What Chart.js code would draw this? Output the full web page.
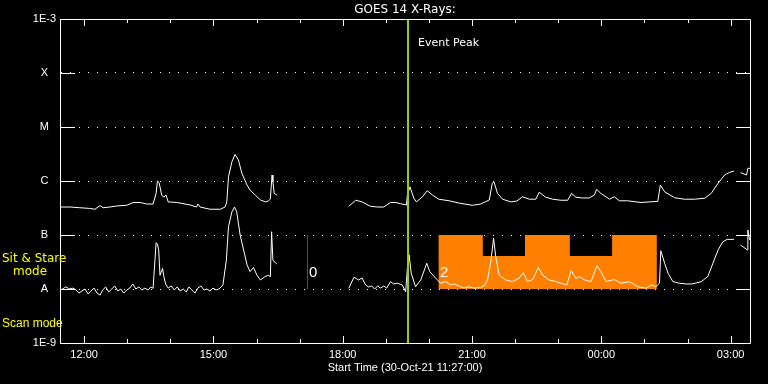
<!DOCTYPE html>
<html><head><meta charset="utf-8">
<script src="https://cdn.jsdelivr.net/npm/chart.js@4/dist/chart.umd.min.js"></script>
<style>html,body{margin:0;padding:0;background:#000;overflow:hidden}#wrap{width:768px;height:384px}</style>
</head><body><div id="wrap"><canvas id="c" width="768" height="384"></canvas></div>
<script>
const chartTitle = 'GOES 14 X-Rays:';
const xAxisTitle = 'Start Time (30-Oct-21 11:27:00)';
const xStart = 11.44, xEnd = 27.45;
const xMajorHours = [12, 15, 18, 21, 24, 27];
const xMajorLabels = ['12:00', '15:00', '18:00', '21:00', '00:00', '03:00'];
const xMinorHours = [12, 13, 14, 15, 16, 17, 18, 19, 20, 21, 22, 23, 24, 25, 26, 27];
const yTickValues = [1e-9, 1e-8, 1e-7, 1e-6, 1e-5, 1e-4, 1e-3];
const yTickLabels = ['1E-9', 'A', 'B', 'C', 'M', 'X', '1E-3'];

const longTimes = [11.44,11.67,11.90,12.13,12.25,12.37,12.44,12.60,12.75,12.99,13.14,13.30,13.45,13.60,13.67,13.70,13.74,13.80,13.85,13.90,13.95,14.15,14.46,14.61,14.64,14.69,14.92,15.16,15.27,15.31,15.35,15.43,15.50,15.58,15.66,15.78,15.85,15.97,16.09,16.21,16.28,16.32,16.36,16.38,16.41,16.47,17.0,
 18.14,18.30,18.45,18.64,18.80,18.95,19.11,19.23,19.34,19.48,19.50,19.56,19.65,19.71,19.85,19.96,20.08,20.23,20.47,20.70,21.01,21.20,21.40,21.47,21.51,21.59,21.71,21.90,22.04,22.17,22.33,22.48,22.56,22.71,22.87,23.06,23.22,23.31,23.41,23.57,23.72,23.84,23.89,23.99,24.19,24.30,24.42,24.61,24.92,25.31,25.37,25.47,25.70,25.93,26.16,26.40,26.55,26.71,26.86,26.98,27.08,27.15,27.23,27.37,27.40,27.48];
const longFlux = [3.3e-7,3.3e-7,3.2e-7,3.1e-7,3.0e-7,3.5e-7,3.2e-7,3.3e-7,3.45e-7,3.55e-7,4.0e-7,4.0e-7,3.75e-7,3.75e-7,5.9e-7,1.0e-6,9.3e-7,5.5e-7,5.0e-7,5.5e-7,4.1e-7,4.0e-7,3.6e-7,3.3e-7,3.75e-7,3.3e-7,3.0e-7,3.0e-7,3.3e-7,4.1e-7,1.2e-6,2.28e-6,3.1e-6,2.45e-6,1.39e-6,8.4e-7,6.8e-7,5.5e-7,4.45e-7,4.1e-7,4.3e-7,4.6e-7,1.29e-6,9.7e-7,5.9e-7,5.5e-7,null,
 3.4e-7,4.4e-7,4.1e-7,3.4e-7,3.3e-7,3.3e-7,4.0e-7,4.0e-7,3.8e-7,3.6e-7,5.5e-7,7.8e-7,4.8e-7,4.1e-7,5.1e-7,6.6e-7,5.5e-7,4.6e-7,4.3e-7,3.9e-7,3.55e-7,3.75e-7,4.45e-7,9.1e-7,9.7e-7,5.9e-7,4.6e-7,4.1e-7,4.25e-7,5.1e-7,4.6e-7,4.6e-7,6.2e-7,5.0e-7,4.6e-7,4.4e-7,4.4e-7,5.9e-7,5.0e-7,4.85e-7,4.85e-7,5.5e-7,7.0e-7,5.9e-7,4.6e-7,5.1e-7,4.3e-7,4.3e-7,4.0e-7,4.2e-7,8.4e-7,6.3e-7,4.9e-7,4.6e-7,4.6e-7,4.8e-7,5.9e-7,9.1e-7,1.29e-6,1.45e-6,1.53e-6,null,1.43e-6,1.29e-6,1.72e-6,1.72e-6];

const shortTimes = [11.44,11.50,11.57,11.67,11.74,11.81,11.88,11.95,12.02,12.09,12.16,12.23,12.30,12.37,12.43,12.50,12.57,12.64,12.71,12.78,12.85,12.92,12.99,13.06,13.13,13.20,13.27,13.34,13.41,13.48,13.55,13.60,13.67,13.70,13.73,13.76,13.82,13.85,13.89,13.95,14.02,14.09,14.16,14.23,14.30,14.37,14.43,14.50,14.57,14.64,14.71,14.78,14.85,14.92,14.99,15.06,15.13,15.22,15.30,15.35,15.43,15.49,15.54,15.62,15.70,15.78,15.85,15.93,16.01,16.09,16.20,16.28,16.32,16.35,16.38,16.47,17.0,
 18.14,18.26,18.37,18.45,18.53,18.60,18.67,18.74,18.81,18.88,18.95,19.02,19.11,19.18,19.27,19.38,19.46,19.50,19.54,19.59,19.69,19.81,19.95,20.02,20.16,20.27,20.39,20.50,20.59,20.70,20.81,20.93,21.04,21.20,21.30,21.36,21.44,21.50,21.55,21.63,21.78,21.94,22.09,22.19,22.29,22.41,22.54,22.64,22.79,22.95,23.06,23.20,23.30,23.41,23.49,23.61,23.76,23.90,23.99,24.11,24.30,24.46,24.65,24.85,25.04,25.16,25.27,25.35,25.38,25.47,25.55,25.66,25.81,25.97,26.09,26.20,26.32,26.47,26.59,26.71,26.82,26.92,27.08,27.15,27.23,27.39,27.40,27.44];
const shortFlux = [9.6e-9,1.0e-8,1.09e-8,1.0e-8,1.04e-8,9.6e-9,8.4e-9,9.2e-9,1.0e-8,8.1e-9,9.2e-9,1.04e-8,8.4e-9,7.7e-9,9.6e-9,1.09e-8,8.8e-9,1.0e-8,1.14e-8,9.2e-9,1.0e-8,8.4e-9,9.6e-9,1.04e-8,1.24e-8,1.0e-8,1.09e-8,9.6e-9,1.04e-8,9.6e-9,1.09e-8,1.03e-8,7.2e-8,6.8e-8,5.3e-8,1.8e-8,2.4e-8,1.7e-8,1.24e-8,1.04e-8,1.14e-8,9.6e-9,1.09e-8,9.2e-9,1.0e-8,8.8e-9,1.09e-8,9.6e-9,8.4e-9,1.04e-8,1.14e-8,9.6e-9,1.0e-8,9.2e-9,1.04e-8,9.6e-9,1.0e-8,1.19e-8,3.4e-8,1.43e-7,2.7e-7,3.3e-7,2.7e-7,1.0e-7,5.3e-8,2.8e-8,2.1e-8,2.5e-8,1.8e-8,1.47e-8,1.7e-8,1.8e-8,1.67e-8,1.15e-7,3.4e-8,2.9e-8,null,
 1.03e-8,1.65e-8,1.47e-8,1.6e-8,1.19e-8,1.09e-8,1.14e-8,1.0e-8,1.14e-8,1.04e-8,1.14e-8,1.04e-8,1.37e-8,1.24e-8,1.28e-8,1.19e-8,8.9e-9,2.4e-8,4.3e-8,1.95e-8,1.1e-8,1.47e-8,3.0e-8,2.1e-8,1.58e-8,1.28e-8,1.37e-8,1.19e-8,1.24e-8,1.14e-8,1.04e-8,1.1e-8,1.04e-8,1.06e-8,1.19e-8,1.47e-8,3.4e-8,8.7e-8,4.0e-8,1.8e-8,1.47e-8,1.37e-8,1.58e-8,2.0e-8,1.37e-8,1.5e-8,2.5e-8,1.8e-8,1.47e-8,1.37e-8,1.28e-8,1.19e-8,2.2e-8,1.58e-8,1.7e-8,1.47e-8,1.37e-8,2.7e-8,2.1e-8,1.37e-8,1.5e-8,1.28e-8,1.37e-8,1.1e-8,1.03e-8,1.19e-8,1.1e-8,1.29e-8,5.1e-8,3.0e-8,1.95e-8,1.37e-8,1.28e-8,1.24e-8,1.24e-8,1.29e-8,1.37e-8,1.7e-8,3.0e-8,5.3e-8,7.5e-8,8.3e-8,8.3e-8,null,6.5e-8,5.3e-8,1.24e-7,8.1e-8];

const modeTimes = [20.22, 21.25, 22.23, 23.27, 24.25, 25.29];
const modeLevels = [1e-7, 4.1e-8, 1e-7, 4.1e-8, 1e-7, 1e-7];
const modeBase = 1e-8;
const eventPeakTime = 19.515;
const markerTime = 17.183;
const markerRange = [1e-8, 1e-7];
const regionTexts = ['0', '2'];
const regionTimes = [17.22, 20.26];
const regionLevel = 2.0e-8;

const tickFont = {family: 'Liberation Sans', size: 11};
const pts = (ts, vs) => ts.map((t, i) => ({x: t, y: vs[i]}));

const overlay = {
  id: 'overlay',
  beforeDraw(chart) {
    const ctx = chart.ctx;
    ctx.save(); ctx.fillStyle = '#000'; ctx.fillRect(0, 0, chart.width, chart.height); ctx.restore();
  },
  afterDraw(chart) {
    const {ctx, chartArea: a, scales: {x, y}} = chart;
    ctx.save();
    ctx.strokeStyle = '#fff'; ctx.lineWidth = 1;
    ctx.beginPath();
    ctx.rect(Math.round(a.left) + 0.5, Math.round(a.top) + 0.5, Math.round(a.right - a.left), Math.round(a.bottom - a.top));
    yTickValues.forEach(v => {
      const py = Math.round(y.getPixelForValue(v)) + 0.5;
      ctx.moveTo(a.left, py); ctx.lineTo(a.left + 15, py);
      ctx.moveTo(a.right - 14, py); ctx.lineTo(a.right, py);
    });
    xMinorHours.forEach(h => {
      const px = Math.round(x.getPixelForValue(h)) + 0.5;
      const len = xMajorHours.includes(h) ? 7 : 4;
      ctx.moveTo(px, a.bottom); ctx.lineTo(px, a.bottom - len);
      ctx.moveTo(px, a.top); ctx.lineTo(px, a.top + len);
    });
    ctx.stroke();

    ctx.fillStyle = '#fff';
    ctx.textBaseline = 'middle';
    ctx.textAlign = 'center';
    ctx.font = '12px "DejaVu Sans"';
    ctx.fillText(chartTitle, (a.left + a.right) / 2, 10);
    ctx.textAlign = 'left';
    ctx.font = '11px "DejaVu Sans"';
    ctx.fillText('Event Peak', x.getPixelForValue(eventPeakTime) + 10, 43);
    ctx.font = '15px "Liberation Sans"';
    regionTexts.forEach((t, i) => ctx.fillText(t, x.getPixelForValue(regionTimes[i]), y.getPixelForValue(regionLevel)));
    ctx.fillStyle = '#ffff00';
    ctx.font = '12px "DejaVu Sans"';
    const pa = y.getPixelForValue(1e-8);
    ctx.fillText('Sit & Stare', 2, pa - 30);
    ctx.fillText('mode', 13, pa - 17.5);
    ctx.font = '12px "Liberation Sans"';
    ctx.fillText('Scan mode', 2, pa + 34.5);
    ctx.restore();
  }
};

new Chart(document.getElementById('c'), {
  type: 'line',
  data: {
    datasets: [
      {data: pts(longTimes, longFlux), borderColor: '#fff', borderWidth: 1, pointRadius: 0, spanGaps: false, order: 2},
      {data: pts(shortTimes, shortFlux), borderColor: '#fff', borderWidth: 1, pointRadius: 0, spanGaps: false, order: 2},
      {data: pts(modeTimes, modeLevels), stepped: 'before', fill: {value: modeBase}, backgroundColor: '#ff8000', borderWidth: 0, borderColor: 'rgba(0,0,0,0)', pointRadius: 0, order: 5},
      {data: [{x: eventPeakTime, y: 1e-9}, {x: eventPeakTime, y: 1e-3}], borderColor: '#9fd000', borderWidth: 2, pointRadius: 0, order: 0},
      {data: [{x: markerTime, y: markerRange[0]}, {x: markerTime, y: markerRange[1]}], borderColor: '#c000d0', borderWidth: 1, pointRadius: 0, order: 1}
    ]
  },
  options: {
    responsive: false, animation: false, devicePixelRatio: 1,
    layout: {padding: {left: 0, right: 18, top: 19, bottom: 0}},
    plugins: {legend: {display: false}, tooltip: {enabled: false}},
    scales: {
      x: {
        type: 'linear', min: xStart, max: xEnd,
        afterBuildTicks: s => { s.ticks = xMinorHours.map(v => ({value: v})); },
        afterFit: s => { s.height = 41; },
        grid: {display: false, drawTicks: false},
        border: {display: false},
        ticks: {color: '#fff', font: tickFont, padding: 5, autoSkip: false, maxRotation: 0,
          callback: v => { const i = xMajorHours.indexOf(v); return i >= 0 ? xMajorLabels[i] : ''; }},
        title: {display: true, text: xAxisTitle, color: '#fff', font: tickFont, padding: {top: 0, bottom: 9}}
      },
      y: {
        type: 'logarithmic', min: 1e-9, max: 1e-3,
        afterBuildTicks: s => { s.ticks = yTickValues.map(v => ({value: v})); },
        afterFit: s => { s.width = 60; },
        grid: {color: '#fff', lineWidth: 1, drawTicks: false},
        border: {display: false, dash: [1, 8], dashOffset: 8},
        ticks: {color: '#fff', font: tickFont, crossAlign: 'center', padding: 4,
          callback: (v, i) => yTickLabels[i]}
      }
    }
  },
  plugins: [overlay]
});
</script>
</body></html>
